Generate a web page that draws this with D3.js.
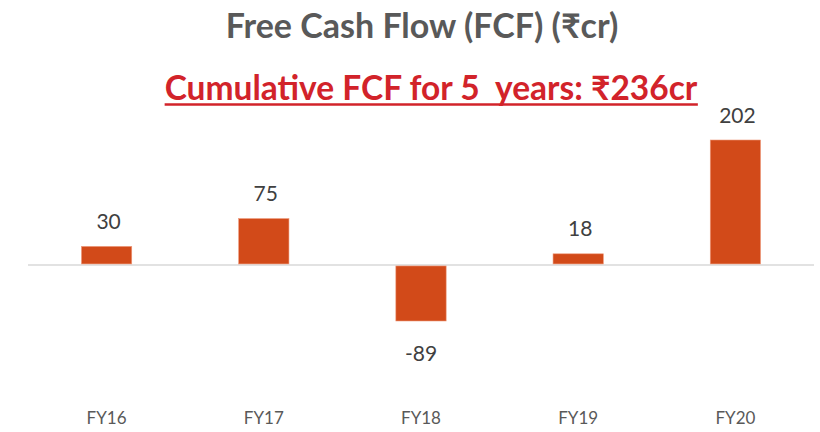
<!DOCTYPE html>
<html>
<head>
<meta charset="utf-8">
<script src="https://cdn.jsdelivr.net/npm/d3@7"></script>
<style>
  body { margin: 0; background: #fff; }
  text { font-family: Lato, "Noto Sans", sans-serif; white-space: pre; }
</style>
</head>
<body>
<div id="chart"></div>
<script>
// Chart data
const years = ["FY16", "FY17", "FY18", "FY19", "FY20"];
const fcf = [30, 75, -89, 18, 202];
const titleText = "Free Cash Flow (FCF) (₹cr)";
const subtitleText = "Cumulative FCF for 5  years: ₹236cr";

const width = 820;
const height = 432;

const svg = d3.select("#chart")
  .append("svg")
  .attr("width", width)
  .attr("height", height);

// Scales
const x = d3.scaleBand()
  .domain(years)
  .range([28, 814])
  .paddingInner(0.68)
  .paddingOuter(0.34);

const y = d3.scaleLinear()
  .domain([-89, 202])
  .range([320, 140]);

// Title
svg.append("text")
  .attr("x", 422)
  .attr("y", 38)
  .attr("text-anchor", "middle")
  .attr("fill", "#595959")
  .style("font-size", "34px")
  .style("font-weight", "bold")
  .text(titleText);

// Subtitle (underlined red)
const sub = svg.append("text")
  .attr("x", 431)
  .attr("y", 100)
  .attr("text-anchor", "middle")
  .attr("fill", "#D2232A")
  .style("font-size", "33.5px")
  .style("font-weight", "bold")
  .text(subtitleText);

const subBox = sub.node().getBBox();
svg.append("line")
  .attr("x1", subBox.x)
  .attr("x2", subBox.x + subBox.width)
  .attr("y1", 104.5)
  .attr("y2", 104.5)
  .attr("stroke", "#D2232A")
  .attr("stroke-width", 2.5);

// Zero line
svg.append("line")
  .attr("x1", 28)
  .attr("x2", 814)
  .attr("y1", y(0))
  .attr("y2", y(0))
  .attr("stroke", "#D9D9D9")
  .attr("stroke-width", 1.5);

// Bars
svg.selectAll(".bar")
  .data(fcf)
  .enter()
  .append("rect")
  .attr("class", "bar")
  .attr("x", (d, i) => x(years[i]))
  .attr("width", x.bandwidth())
  .attr("y", d => d >= 0 ? y(d) : y(0) + 1)
  .attr("height", d => Math.abs(y(d) - y(0)) - (d >= 0 ? 1 : 0))
  .attr("fill", "#D24A19")
  .attr("stroke", "#EE9A7C")
  .attr("stroke-width", 0.6);

// Value labels
svg.selectAll(".value")
  .data(fcf)
  .enter()
  .append("text")
  .attr("class", "value")
  .attr("x", (d, i) => x(years[i]) + x.bandwidth() / 2 + (d >= 0 ? 2 : 0))
  .attr("y", d => d >= 0 ? y(d) - 17.5 : y(d) + 40.5)
  .attr("text-anchor", "middle")
  .attr("fill", "#404040")
  .style("font-size", "21px")
  .text(d => d);

// Category labels
svg.selectAll(".cat")
  .data(years)
  .enter()
  .append("text")
  .attr("class", "cat")
  .attr("x", d => x(d) + x.bandwidth() / 2)
  .attr("y", 424)
  .attr("text-anchor", "middle")
  .attr("fill", "#595959")
  .style("font-size", "17px")
  .text(d => d);
</script>
</body>
</html>
